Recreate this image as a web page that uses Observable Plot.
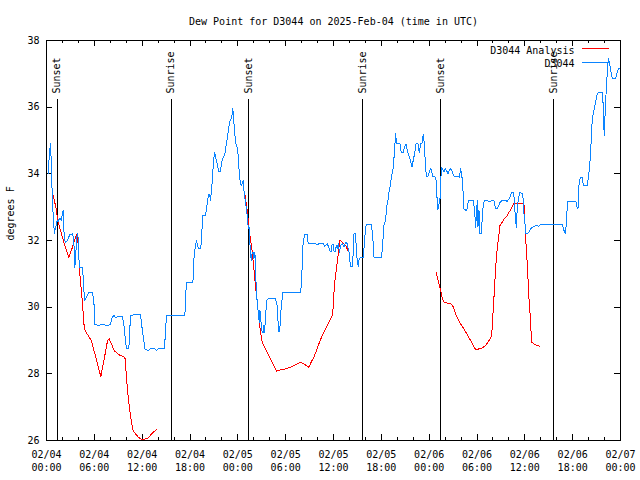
<!DOCTYPE html>
<html><head><meta charset="utf-8">
<script src="https://cdn.jsdelivr.net/npm/d3@7"></script>
<script src="https://cdn.jsdelivr.net/npm/@observablehq/plot@0.6"></script>
<style>body{margin:0;background:#fff} svg{display:block}</style>
</head><body><div id="chart"></div>
<script>
const title = "Dew Point for D3044 on 2025-Feb-04 (time in UTC)";
const yLabel = "degrees F";
const startTime = "2025-02-04T00:00:00Z";
const spanHours = 72;
const yTicks = [26, 28, 30, 32, 34, 36, 38];
const seriesNames = ["D3044 Analysis", "D3044"];
const sunLabels = ["Sunset", "Sunrise", "Sunset", "Sunrise", "Sunset", "Sunrise"];
const sunHours = [1.34, 15.64, 25.39, 39.69, 49.46, 63.65];

// Observations (hours after start, dew point F)
const obsHours = [0.21,0.38,0.5,0.6,0.7,0.8,0.95,1.0,1.1,1.34,1.45,1.6,1.75,1.9,1.97,2.09,2.17,2.26,2.4,2.6,2.93,3.3,3.43,3.56,3.68,3.85,3.97,4.08,4.1,4.52,4.6,4.77,4.9,5.1,5.31,5.73,5.94,6.06,6.5,7.0,7.6,8.03,8.24,8.45,8.7,9.0,9.5,9.7,9.91,10.04,10.33,10.54,10.75,10.95,11.79,12.0,12.2,12.34,12.6,12.8,13.0,13.6,13.8,14.0,14.8,14.93,15.06,
17.36,17.44,17.57,18.36,18.41,18.49,18.65,18.82,18.99,19.11,19.32,19.45,19.53,19.61,19.95,20.07,20.24,20.37,20.49,20.58,20.66,20.79,20.87,21.0,21.12,21.25,21.41,21.62,21.83,21.96,22.17,22.38,22.5,22.67,22.84,23.0,23.17,23.3,23.38,23.46,23.59,23.71,23.92,24.05,24.17,24.3,24.43,24.55,24.68,24.76,24.89,25.01,25.18,25.3,25.39,25.47,25.51,25.6,25.68,25.81,25.93,26.01,26.14,26.22,26.31,26.43,26.56,26.69,26.77,26.85,26.98,27.06,27.19,27.27,27.35,27.48,27.6,27.77,28.73,28.94,29.07,29.15,29.28,29.44,29.65,31.87,32.0,32.16,32.37,32.7,32.83,
33.12,33.54,33.96,34.38,34.71,34.88,35.21,35.42,35.55,35.68,35.76,35.93,36.05,36.18,36.35,36.47,36.6,36.76,36.89,37.1,37.31,37.51,37.72,37.85,38.02,38.1,38.35,38.44,38.56,38.77,38.86,38.98,39.11,39.19,39.32,39.73,39.9,40.03,40.15,40.78,40.95,41.07,42.04,42.2,42.33,42.53,42.66,42.83,42.95,43.16,43.29,43.45,43.58,43.71,43.79,43.91,44.08,44.33,44.5,44.75,44.92,45.08,45.25,45.46,45.67,45.84,46.0,46.17,46.34,46.59,46.76,46.93,47.09,47.26,47.35,47.43,47.51,47.68,47.85,48.01,48.18,48.31,48.43,48.68,48.85,48.93,49.02,49.1,49.23,49.35,49.48,49.56,49.69,49.86,50.02,50.19,50.36,50.52,50.69,50.86,51.03,51.19,51.53,51.78,51.95,52.11,52.2,52.28,52.36,52.62,52.78,52.91,53.54,53.7,53.83,53.95,54.04,54.12,54.25,54.37,54.54,54.67,54.79,54.96,55.3,55.51,55.93,56.13,56.34,56.55,56.8,56.97,57.39,57.81,58.01,58.22,58.35,58.52,58.64,58.81,58.93,59.06,59.23,59.39,59.69,59.81,59.89,60.02,60.1,60.31,60.52,60.73,60.94,61.36,61.77,61.98,62.61,64.7,64.91,65.12,65.24,65.37,66.37,66.5,66.58,66.71,66.79,66.96,67.21,67.33,67.84,67.96,68.13,68.3,68.46,68.67,68.88,69.09,69.22,69.72,69.8,69.89,69.97,70.05,70.14,70.26,70.35,70.47,70.64,70.77,70.98,71.4,71.52,71.73,72.0];
const obsDewpt = [34.0,34.65,34.9,34.35,33.5,32.9,32.35,32.2,32.35,32.6,32.55,32.65,32.65,32.6,32.8,32.9,32.35,32.0,31.95,32.0,32.18,32.2,31.95,31.2,31.65,32.2,32.1,31.4,31.2,31.2,30.9,30.2,30.25,30.35,30.45,30.45,30.2,29.48,29.45,29.48,29.45,29.48,29.7,29.75,29.68,29.73,29.73,29.5,29.0,28.75,28.75,29.75,29.75,29.78,29.78,29.35,29.0,28.75,28.72,28.7,28.75,28.75,28.7,28.75,28.75,29.3,29.75,
29.75,30.35,30.73,30.73,30.95,31.45,31.8,32.0,31.8,31.75,31.75,32.0,32.5,32.75,32.75,32.95,33.25,33.4,33.35,33.2,33.45,33.75,34.1,34.5,34.63,34.45,34.3,34.07,34.07,34.35,34.5,34.6,34.8,35.05,35.35,35.57,35.65,35.8,35.95,35.65,35.3,34.95,34.8,34.55,34.05,33.75,33.65,33.7,33.8,33.5,33.25,33.05,32.75,32.4,32.35,32.4,31.95,31.6,31.4,31.65,31.65,31.45,31.65,31.15,30.55,30.15,29.85,29.55,29.9,29.7,29.35,29.25,29.25,29.45,29.25,29.7,30.2,30.25,30.25,30.05,29.45,29.25,29.4,30.0,30.45,30.45,30.75,31.85,32.18,32.18,31.9,
31.9,31.92,31.88,31.92,31.9,31.83,31.9,31.8,31.7,31.65,31.85,31.9,31.7,31.65,31.85,31.75,31.9,31.65,31.85,31.9,31.8,31.95,31.9,31.75,31.6,31.22,31.22,31.5,32.2,32.2,31.75,31.4,31.22,31.4,31.48,31.48,32.0,32.4,32.47,32.47,32.0,31.5,31.5,32.0,32.45,32.6,33.0,33.2,33.45,33.7,33.95,34.1,34.45,34.9,35.2,34.9,34.92,34.9,34.65,34.65,34.8,34.9,34.7,34.55,34.4,34.2,34.4,34.6,34.9,34.9,34.65,34.9,34.9,35.18,35.0,34.9,34.25,33.92,33.92,34.05,34.17,34.1,33.92,33.92,33.85,33.5,33.15,32.92,33.1,33.2,33.9,34.2,34.15,34.05,34.15,34.1,34.0,34.1,34.15,34.1,33.95,33.92,33.92,33.9,34.15,33.9,33.8,33.25,32.95,32.9,32.95,33.2,33.2,32.9,32.4,32.9,33.2,32.4,32.9,32.2,32.2,32.7,33.1,33.2,33.2,33.15,33.2,33.2,32.95,32.95,33.1,33.18,33.2,33.18,33.25,33.35,33.45,33.45,33.3,32.7,32.4,33.0,33.3,33.45,33.4,33.2,32.8,32.5,32.22,32.2,32.25,32.35,32.4,32.45,32.43,32.48,32.48,32.48,32.3,32.2,32.7,33.18,33.18,33.1,32.95,33.0,33.65,33.9,33.9,33.65,33.65,33.9,34.2,34.9,35.65,35.9,36.15,36.4,36.45,36.45,36.2,35.5,35.15,35.7,36.2,36.7,37.1,37.45,37.3,37.1,36.85,36.85,37.0,37.15,37.15];

// Analysis (hours after start, dew point F); null marks a gap
const anaHours = [0.75,1.17,1.46,1.88,2.3,2.8,3.26,3.77,3.97,4.18,4.48,4.73,4.94,5.23,5.65,6.07,6.49,6.82,7.24,7.66,7.87,8.49,9.0,9.75,9.87,10.04,10.29,10.59,10.88,11.51,12.05,12.76,13.39,13.81,
20,
24.84,25.18,25.51,25.81,26.01,26.27,26.43,26.64,26.85,27.06,27.35,27.69,28.11,28.52,28.86,29.36,29.99,30.61,31.03,31.45,31.87,32.37,32.91,33.2,33.54,33.87,34.17,34.58,35.0,35.42,35.84,35.97,36.05,36.18,36.39,36.6,36.77,36.89,37.1,37.31,37.52,37.72,37.85,
43,
48.85,49.02,49.23,49.44,49.65,49.85,50.27,50.69,50.94,51.11,51.32,51.53,51.94,52.36,52.78,53.2,53.62,53.87,54.25,54.66,55.08,55.5,55.79,55.92,56.0,56.13,56.25,56.38,56.55,56.76,56.88,57.18,57.39,57.6,57.81,58.01,58.22,58.64,59.68,59.89,59.93,60.1,60.18,60.31,60.43,60.52,60.6,60.69,60.77,60.85,61.14,61.56,61.9];
const anaDewpt = [33.45,33.0,32.55,32.2,31.85,31.5,31.8,32.18,31.9,31.0,30.2,29.4,29.25,29.15,28.98,28.6,28.2,27.92,28.45,29.0,29.05,28.7,28.58,28.5,28.45,27.85,27.2,26.65,26.28,26.1,26.02,26.08,26.25,26.33,
null,
33.45,32.9,32.15,31.65,31.15,30.5,30.15,29.65,29.25,28.95,28.8,28.65,28.45,28.25,28.08,28.12,28.15,28.2,28.25,28.3,28.35,28.28,28.2,28.35,28.5,28.7,28.9,29.15,29.35,29.55,29.75,30.0,30.4,30.8,31.2,31.6,32.0,32.0,31.95,31.9,31.85,31.75,31.68,
null,
31.05,30.9,30.7,30.5,30.25,30.15,30.12,30.1,30.05,29.95,29.8,29.68,29.5,29.35,29.18,29.0,28.8,28.72,28.75,28.78,28.85,29.0,29.12,29.4,29.8,30.3,30.8,31.3,31.8,32.2,32.45,32.55,32.65,32.7,32.75,32.85,32.92,33.12,33.12,33.1,32.85,32.2,31.7,31.3,30.7,30.25,30.0,29.7,29.3,28.95,28.9,28.85,28.83];

const RED = "#ff0000", BLUE = "#0a84ff";
const W = 640, H = 480, mL = 46, mR = 20, mT = 40, mB = 40;
const iW = W - mL - mR, iH = H - mT - mB;

const t0 = new Date(startTime);
const toDate = h => new Date(+t0 + h * 3600e3);
const obs = obsHours.map((h, i) => ({t: toDate(h), v: obsDewpt[i]}));
const ana = anaHours.map((h, i) => ({t: toDate(h), v: anaDewpt[i]}));
const sun = sunHours.map((h, i) => ({t: toDate(h), label: sunLabels[i]}));
const tEnd = toDate(spanHours);
const xMajor = d3.utcHour.every(6).range(t0, toDate(spanHours + 0.01));
const xMinor = d3.utcHour.every(2).range(t0, toDate(spanHours + 0.01)).filter(d => d.getUTCHours() % 6 !== 0);
const fmt = d3.utcFormat("%m/%d\n%H:%M");
const tick = {stroke: "black", strokeOpacity: 1, strokeWidth: 1, shapeRendering: "crispEdges"};

const chart = Plot.plot({
  width: W, height: H,
  marginLeft: mL, marginRight: mR, marginTop: mT, marginBottom: mB,
  style: {fontFamily: "DejaVu Sans Mono", fontSize: "10px", background: "white", color: "black"},
  x: {type: "utc", domain: [t0, tEnd]},
  y: {domain: [26, 38]},
  marks: [
    Plot.gridY(yTicks, {...tick, insetRight: iW - 6}),
    Plot.gridY(yTicks, {...tick, insetLeft: iW - 6}),
    Plot.gridX(xMajor, {...tick, insetTop: iH - 6}),
    Plot.gridX(xMajor, {...tick, insetBottom: iH - 6}),
    Plot.gridX(xMinor, {...tick, insetTop: iH - 3}),
    Plot.gridX(xMinor, {...tick, insetBottom: iH - 3}),
    Plot.axisY(yTicks, {tickSize: 0, tickPadding: 7, label: null}),
    Plot.axisX(xMajor, {tickSize: 0, tickPadding: 9, label: null, tickFormat: fmt, lineHeight: 1.25}),
    Plot.ruleX(sun, {x: "t", stroke: "black", strokeWidth: 1, insetTop: 59, shapeRendering: "crispEdges"}),
    Plot.text(sun, {x: "t", text: "label", frameAnchor: "top", dy: 53, rotate: -90, textAnchor: "start", lineAnchor: "middle"}),
    Plot.line(ana, {x: "t", y: "v", stroke: RED, strokeWidth: 1, shapeRendering: "crispEdges"}),
    Plot.line(obs, {x: "t", y: "v", stroke: BLUE, strokeWidth: 1, shapeRendering: "crispEdges"}),
    Plot.frame({stroke: "black", shapeRendering: "crispEdges"}),
    Plot.text([title], {frameAnchor: "top", dy: -23}),
    Plot.text([yLabel], {frameAnchor: "left", dx: -36, rotate: -90}),
    Plot.text([seriesNames[0]], {frameAnchor: "top-right", dx: -46, dy: 6, textAnchor: "end"}),
    Plot.text([seriesNames[1]], {frameAnchor: "top-right", dx: -46, dy: 19, textAnchor: "end"})
  ]
});
document.getElementById("chart").appendChild(chart);

// legend line samples
const svg = d3.select(chart);
const xr = W - mR;
[[RED, mT + 8], [BLUE, mT + 22]].forEach(([c, y]) => {
  svg.append("line").attr("x1", xr - 38).attr("x2", xr - 11)
    .attr("y1", y + 0.5).attr("y2", y + 0.5).attr("stroke", c)
    .attr("stroke-width", 1).attr("shape-rendering", "crispEdges");
});
</script>
</body></html>
